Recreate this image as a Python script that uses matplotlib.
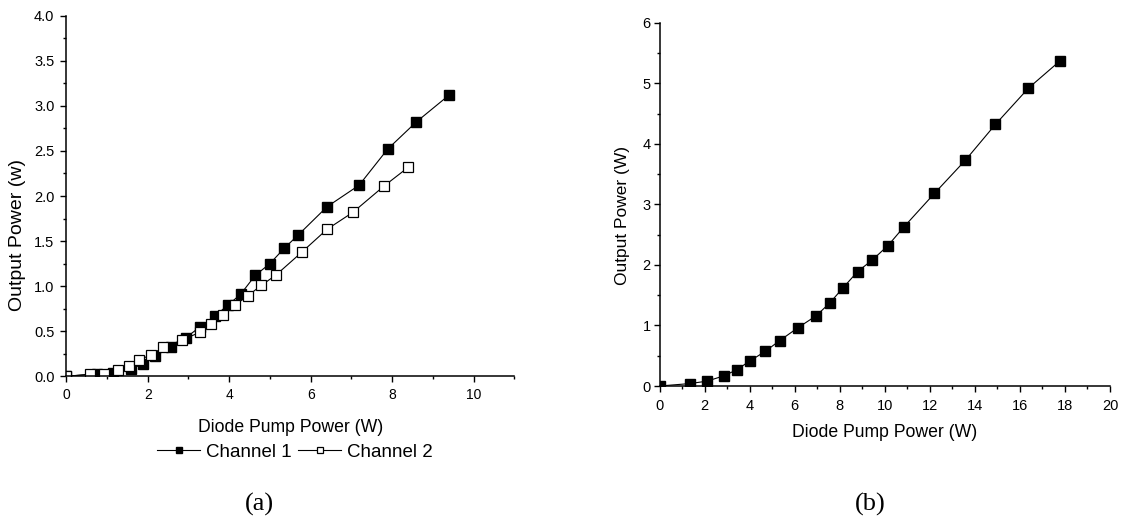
import matplotlib
matplotlib.use("Agg")
import matplotlib.pyplot as plt
from matplotlib.ticker import MultipleLocator, FormatStrFormatter

plt.rcParams['font.family'] = ['Liberation Sans', 'DejaVu Sans']

# Panel (a) data
ch1_x = [0.0, 0.75, 1.15, 1.59, 1.89, 2.19, 2.57, 2.94, 3.29, 3.65, 3.97, 4.28,
         4.64, 5.00, 5.35, 5.70, 6.40, 7.19, 7.89, 8.59, 9.40]
ch1_y = [0.0, 0.03, 0.04, 0.08, 0.14, 0.23, 0.32, 0.43, 0.55, 0.67, 0.79, 0.91,
         1.12, 1.25, 1.42, 1.57, 1.88, 2.12, 2.52, 2.82, 3.12]
ch2_x = [0.0, 0.57, 0.92, 1.26, 1.53, 1.79, 2.08, 2.38, 2.83, 3.29, 3.56, 3.85,
         4.14, 4.45, 4.79, 5.14, 5.79, 6.40, 7.04, 7.80, 8.40]
ch2_y = [0.0, 0.02, 0.03, 0.07, 0.11, 0.18, 0.24, 0.32, 0.40, 0.49, 0.58, 0.68,
         0.79, 0.89, 1.01, 1.12, 1.38, 1.63, 1.82, 2.11, 2.32]

# Panel (b) data
b_x = [0.0, 1.34, 2.10, 2.87, 3.43, 3.99, 4.68, 5.33, 6.13, 6.95, 7.55, 8.14,
       8.79, 9.44, 10.14, 10.83, 12.20, 13.58, 14.91, 16.38, 17.78]
b_y = [0.0, 0.04, 0.08, 0.17, 0.27, 0.41, 0.57, 0.75, 0.96, 1.16, 1.37, 1.62,
       1.89, 2.08, 2.32, 2.62, 3.18, 3.73, 4.32, 4.92, 5.37]

W, H = 1122, 519
fig = plt.figure(figsize=(W / 100, H / 100), dpi=100)

def px_axes(x0, x1, ytop, ybot):
    return fig.add_axes([x0 / W, (H - ybot) / H, (x1 - x0) / W, (ybot - ytop) / H])

ax1 = px_axes(66.3, 514.3, 15.7, 376.3)
ax2 = px_axes(659.7, 1110.0, 22.7, 386.0)

def style(ax, xsize, ysize, xpad, ypad):
    for s in ('top', 'right'):
        ax.spines[s].set_visible(False)
    for s in ('left', 'bottom'):
        ax.spines[s].set_linewidth(1.1)
    ax.tick_params(which='major', direction='out', length=4, width=1.0)
    ax.tick_params(which='minor', direction='out', length=2.5, width=1.0)
    ax.tick_params(axis='x', which='major', labelsize=xsize, pad=xpad)
    ax.tick_params(axis='y', which='major', labelsize=ysize, pad=ypad)

mk = 6.5
ax1.plot(ch1_x, ch1_y, color='black', lw=0.8, marker='s', ms=mk,
         mfc='black', mec='black', label='Channel 1')
ax1.plot(ch2_x, ch2_y, color='black', lw=0.8, marker='s', ms=mk,
         mfc='white', mec='black', mew=0.9, label='Channel 2')
ax1.set_xlim(0, 11)
ax1.set_ylim(0, 4.0)
ax1.xaxis.set_major_locator(MultipleLocator(2))
ax1.xaxis.set_minor_locator(MultipleLocator(1))
ax1.yaxis.set_major_locator(MultipleLocator(0.5))
ax1.yaxis.set_minor_locator(MultipleLocator(0.25))
ax1.yaxis.set_major_formatter(FormatStrFormatter('%.1f'))
style(ax1, 10, 10.5, 4.5, 4.5)
ax1.set_xlabel('Diode Pump Power (W)', fontsize=12.7)
ax1.set_ylabel('Output Power (w)', fontsize=14)
ax1.xaxis.set_label_coords(0.5, -0.141)
ax1.yaxis.set_label_coords(-0.108, 0.392)
ax1.xaxis.label.set_va('center')
ax1.yaxis.label.set_va('center')

leg = ax1.legend(loc='center', bbox_to_anchor=((295 - 66.3) / 448.0, (376.3 - 452) / 360.6),
                 ncol=2, frameon=False, fontsize=13.5, handlelength=2.3,
                 handletextpad=0.3, columnspacing=0.35, markerscale=0.75,
                 borderpad=0, borderaxespad=0)

ax2.plot(b_x, b_y, color='black', lw=0.8, marker='s', ms=mk,
         mfc='black', mec='black')
ax2.set_xlim(0, 20)
ax2.set_ylim(0, 6)
ax2.xaxis.set_major_locator(MultipleLocator(2))
ax2.xaxis.set_minor_locator(MultipleLocator(1))
ax2.yaxis.set_major_locator(MultipleLocator(1))
ax2.yaxis.set_minor_locator(MultipleLocator(0.5))
style(ax2, 10.5, 10.5, 5.5, 2.5)
ax2.set_xlabel('Diode Pump Power (W)', fontsize=12.7)
ax2.set_ylabel('Output Power (W)', fontsize=12.5)
ax2.xaxis.set_label_coords(0.5, -0.127)
ax2.yaxis.set_label_coords(-0.0837, 0.468)
ax2.xaxis.label.set_va('center')
ax2.yaxis.label.set_va('center')

fig.text(259 / W, (H - 504) / H, '(a)', fontsize=19, family='Liberation Serif',
         ha='center', va='center')
fig.text(870 / W, (H - 504) / H, '(b)', fontsize=19, family='Liberation Serif',
         ha='center', va='center')

fig.savefig('out.png', dpi=100)
